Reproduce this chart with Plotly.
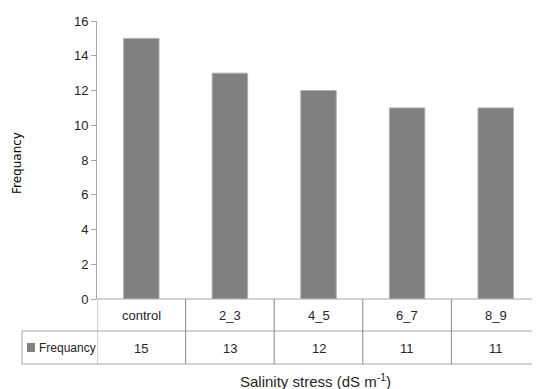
import plotly.graph_objects as go

categories = ["control", "2_3", "4_5", "6_7", "8_9"]
frequency = [15, 13, 12, 11, 11]
series_name = "Frequancy"
y_ticks = [0, 2, 4, 6, 8, 10, 12, 14, 16]

OFF = 8  # browser default body margin
W, H = 540 - OFF, 389 - OFF
L, R, T, B = 97 - OFF, 0, 21 - OFF, 90
ph = H - T - B
pw = W - L - R

def py(pix):
    # page pixel y (from top) -> paper coordinate
    return (389 - B - pix) / ph

def px(pix):
    return (pix - 97) / pw

font_main = "Liberation Sans Narrow, Liberation Sans, Arial"
txt_col = "#262626"
line_col = "#a6a6a6"

fig = go.Figure()
fig.add_trace(go.Bar(
    x=categories, y=frequency, name=series_name,
    marker=dict(color="#808080", line=dict(color="#b0b0b0", width=1)),
    width=0.4, showlegend=False,
))

shapes = []
shapes.append(dict(type="line", xref="paper", yref="paper", x0=0, x1=1, y0=py(299), y1=py(299),
                   line=dict(color=line_col, width=1)))
for yy in (331, 364):
    shapes.append(dict(type="line", xref="paper", yref="paper", x0=px(22), x1=1, y0=py(yy), y1=py(yy),
                       line=dict(color=line_col, width=1)))
shapes.append(dict(type="line", xref="paper", yref="paper", x0=px(22), x1=px(22), y0=py(331), y1=py(364),
                   line=dict(color=line_col, width=1)))
for i in range(len(categories)):
    xb = i - 0.5
    shapes.append(dict(type="line", xref="x", yref="paper", x0=xb, x1=xb, y0=py(299), y1=py(364),
                       line=dict(color="#8c8c8c" if i > 0 else line_col, width=1)))
shapes.append(dict(type="rect", xref="paper", yref="paper", x0=px(27), x1=px(35), y0=py(352), y1=py(343),
                   fillcolor="#808080", line=dict(color="#808080", width=0)))

annotations = []
for c, v in zip(categories, frequency):
    annotations.append(dict(x=c, y=py(315), xref="x", yref="paper", text=c, showarrow=False,
                            xanchor="center", yanchor="middle",
                            font=dict(family=font_main, size=13, color=txt_col)))
    annotations.append(dict(x=c, y=py(348), xref="x", yref="paper", text=str(v), showarrow=False,
                            xanchor="center", yanchor="middle",
                            font=dict(family=font_main, size=13, color=txt_col)))
annotations.append(dict(x=px(37), y=py(348), xref="paper", yref="paper", text=series_name,
                        xanchor="left", yanchor="middle", showarrow=False,
                        font=dict(family=font_main, size=12, color=txt_col)))
annotations.append(dict(x=px(315), y=py(380), xref="paper", yref="paper",
                        text="Salinity stress (dS m<sup>-1</sup>)", showarrow=False,
                        xanchor="center", yanchor="middle",
                        font=dict(family=font_main, size=15, color=txt_col)))
annotations.append(dict(x=px(17), y=py(163), xref="paper", yref="paper", text="Frequancy",
                        textangle=-90, showarrow=False, xanchor="center", yanchor="middle",
                        font=dict(family="DejaVu Sans, Verdana", size=12, color="#000000")))

fig.update_layout(
    width=W, height=H,
    margin=dict(l=L, r=R, t=T, b=B, pad=0),
    paper_bgcolor="white", plot_bgcolor="white",
    shapes=shapes, annotations=annotations,
    xaxis=dict(range=[-0.5, 4.5], showticklabels=False, showgrid=False, zeroline=False,
               showline=False, ticks=""),
    yaxis=dict(range=[0, 16], tickvals=y_ticks, showgrid=False, zeroline=False,
               showline=True, linecolor=line_col, linewidth=1, ticks="outside", ticklen=5,
               tickcolor=line_col,
               tickfont=dict(family=font_main, size=13, color=txt_col)),
)

fig.write_html("out.html")
